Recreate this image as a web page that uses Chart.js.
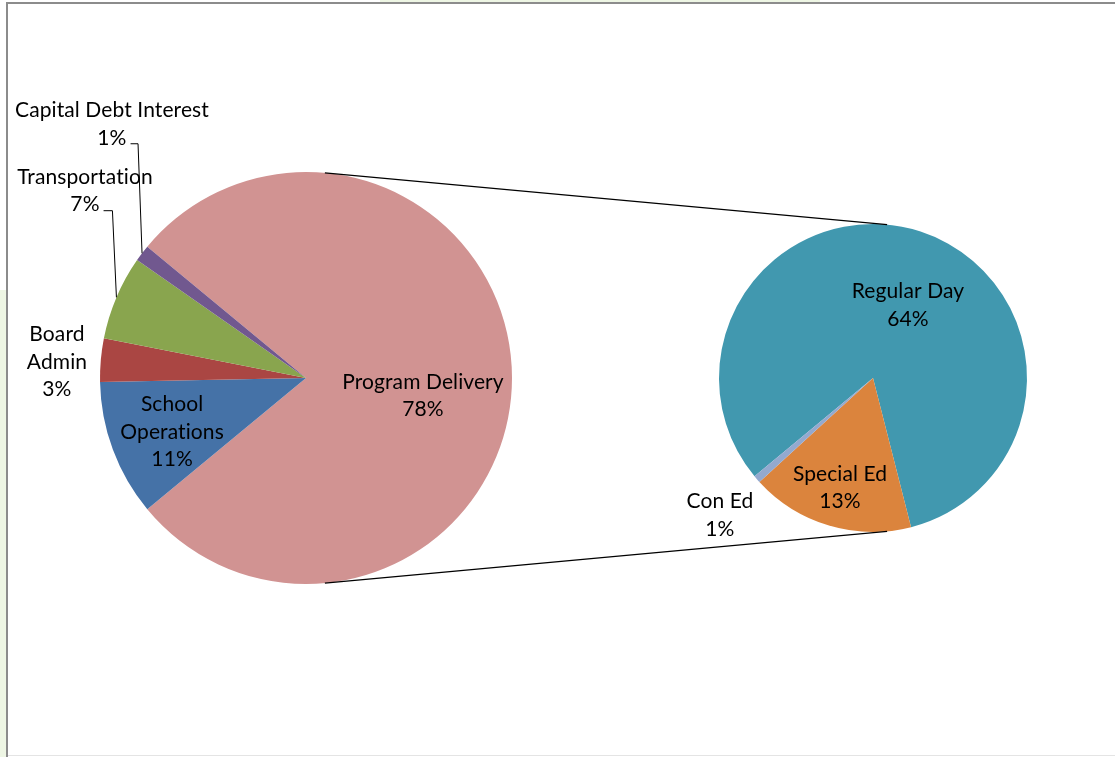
<!DOCTYPE html>
<html>
<head>
<meta charset="utf-8">
<script src="https://cdn.jsdelivr.net/npm/chart.js@4.4.1/dist/chart.umd.min.js"></script>
<style>
  html, body { margin: 0; padding: 0; background: #fff; }
  #wrap { position: relative; width: 1115px; height: 757px; overflow: hidden; background: #fff; }
  #wrap canvas { position: absolute; left: 0; top: 0; }
  .edge { position: absolute; background: #8c8c8c; }
  .tint { position: absolute; background: #eef6e4; }
</style>
</head>
<body>
<div id="wrap">
  <div class="tint" style="left:0;top:290px;width:6px;height:467px;"></div>
  <div class="tint" style="left:380px;top:0;width:440px;height:2px;"></div>
  <div class="edge" style="left:6px;top:2px;width:1109px;height:2px;"></div>
  <div class="edge" style="left:6px;top:2px;width:2px;height:755px;"></div>
  <div class="edge" style="left:8px;top:755px;width:1107px;height:1px;background:#e4e4e4;"></div>
  <canvas id="mainPie" width="1115" height="757"></canvas>
  <canvas id="subPie" width="1115" height="757"></canvas>
</div>
<script>
// ===== data =====
const mainLabels = ['Program Delivery', 'School Operations', 'Board Admin', 'Transportation', 'Capital Debt Interest'];
const mainValues = [78.0, 10.7, 3.4, 6.6, 1.3];
const mainColors = ['#d19392', '#4572a7', '#aa4643', '#89a54e', '#71588f'];

const subLabels = ['Regular Day', 'Special Ed', 'Con Ed'];
const subValues = [64.0, 13.4, 0.6];
const subColors = ['#4198af', '#db843d', '#93a9cf'];

// how each label is broken into lines
const mainLines = [['Program Delivery'], ['School', 'Operations'], ['Board', 'Admin'], ['Transportation'], ['Capital Debt Interest']];
const subLines = [['Regular Day'], ['Special Ed'], ['Con Ed']];

// label centres as fractions of the pie radius, measured from the pie centre
const mainLabelPos = [[0.568, 0.087], [-0.650, 0.262], [-1.209, -0.078], [-1.073, -0.908], [-0.942, -1.233]];
const subLabelPos = [[0.227, -0.474], [-0.214, 0.714], [-0.994, 0.890]];
const mainLeader = [false, false, false, true, true];
const subLeader = [false, false, false];

const FONT = '21px Lato, "Liberation Sans", sans-serif';
const LINE_H = 27.5;
const grandTotal = mainValues.reduce((a, b) => a + b, 0);

function pct(v) {
  return Math.round(v / grandTotal * 100) + '%';
}

// ===== label plugin =====
function labelPlugin(lines, pos, leader) {
  return {
    id: 'sliceLabels',
    afterDraw(chart) {
      const ctx = chart.ctx;
      const meta = chart.getDatasetMeta(0);
      const vals = chart.data.datasets[0].data;
      ctx.save();
      ctx.font = FONT;
      ctx.letterSpacing = '0.1px'; // stops the "ti" ligature
      ctx.fillStyle = '#000';
      ctx.strokeStyle = '#000';
      ctx.lineWidth = 1;
      ctx.textAlign = 'center';
      ctx.textBaseline = 'middle';
      meta.data.forEach((arc, i) => {
        const p = arc.getProps(['x', 'y', 'startAngle', 'endAngle', 'outerRadius'], true);
        const cx = p.x + pos[i][0] * p.outerRadius;
        const cy = p.y + pos[i][1] * p.outerRadius;
        const txt = lines[i].concat([pct(vals[i])]);
        const top = cy - (txt.length - 1) * LINE_H / 2;
        txt.forEach((t, j) => ctx.fillText(t, cx, top + j * LINE_H));
        if (leader[i]) {
          const mid = (p.startAngle + p.endAngle) / 2;
          const ex = p.x + Math.cos(mid) * p.outerRadius;
          const ey = p.y + Math.sin(mid) * p.outerRadius;
          const last = txt[txt.length - 1];
          const ly = top + (txt.length - 1) * LINE_H + 6;
          const sx = cx + ctx.measureText(last).width / 2 + 4;
          ctx.beginPath();
          ctx.moveTo(sx, ly);
          ctx.lineTo(ex - 4, ly);
          ctx.lineTo(ex, ey);
          ctx.stroke();
        }
      });
      ctx.restore();
    }
  };
}

// ===== connector lines between the two pies =====
const connectorPlugin = {
  id: 'connectors',
  afterDraw(chart) {
    const a = mainChart.getDatasetMeta(0).data[0];
    const b = chart.getDatasetMeta(0).data[0];
    const x1 = a.x, y1 = a.y, r1 = a.outerRadius;
    const x2 = b.x, y2 = b.y, r2 = b.outerRadius;
    const d = Math.hypot(x2 - x1, y2 - y1);
    const phi = Math.atan2(y2 - y1, x2 - x1);
    const alpha = Math.acos((r1 - r2) / d);
    const ctx = chart.ctx;
    ctx.save();
    ctx.strokeStyle = '#000';
    ctx.lineWidth = 1.3;
    [-1, 1].forEach(s => {
      const t = phi + s * alpha;
      ctx.beginPath();
      ctx.moveTo(x1 + r1 * Math.cos(t), y1 + r1 * Math.sin(t));
      ctx.lineTo(x2 + r2 * Math.cos(t), y2 + r2 * Math.sin(t));
      ctx.stroke();
    });
    ctx.restore();
  }
};

const baseOpts = {
  responsive: false,
  animation: false,
  plugins: { legend: { display: false }, tooltip: { enabled: false } }
};

const mainChart = new Chart(document.getElementById('mainPie').getContext('2d'), {
  type: 'pie',
  data: {
    labels: mainLabels,
    datasets: [{ data: mainValues, backgroundColor: mainColors, borderWidth: 0 }]
  },
  options: Object.assign({}, baseOpts, {
    rotation: 309.6,
    layout: { padding: { left: 100, top: 172, right: 603, bottom: 173 } }
  }),
  plugins: [labelPlugin(mainLines, mainLabelPos, mainLeader)]
});

const subChart = new Chart(document.getElementById('subPie').getContext('2d'), {
  type: 'pie',
  data: {
    labels: subLabels,
    datasets: [{ data: subValues, backgroundColor: subColors, borderWidth: 0 }]
  },
  options: Object.assign({}, baseOpts, {
    rotation: 230.3,
    layout: { padding: { left: 719, top: 224, right: 88, bottom: 225 } }
  }),
  plugins: [labelPlugin(subLines, subLabelPos, subLeader), connectorPlugin]
});
</script>
</body>
</html>
